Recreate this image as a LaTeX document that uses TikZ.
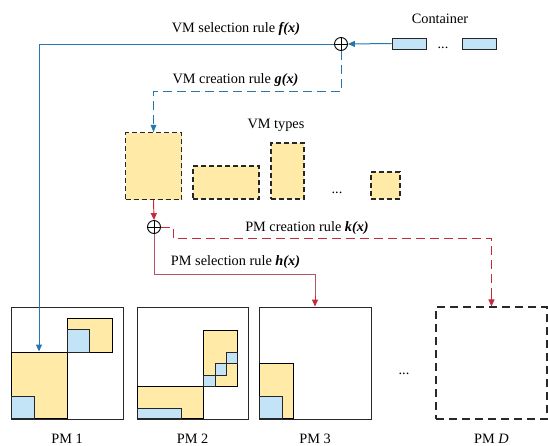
\documentclass[tikz,border=0pt]{standalone}
\usepackage{fontspec}
\setmainfont{Liberation Serif}
\usetikzlibrary{arrows.meta}
\definecolor{vmyellow}{RGB}{255,234,168}
\definecolor{ctblue}{RGB}{194,228,246}
\definecolor{selblue}{RGB}{40,118,175}
\definecolor{pmred}{RGB}{200,40,60}
\definecolor{pmredline}{RGB}{175,85,100}
\definecolor{boxgray}{RGB}{40,40,40}
\begin{document}
\begin{tikzpicture}[x=1pt,y=-1pt,
  lbl/.style={anchor=base,inner sep=0pt,font=\fontsize{14.3}{16}\selectfont},
  tip/.style={-{Triangle[length=7pt,width=6pt]}},
  pmbox/.style={draw=boxgray,line width=0.9pt},
  vmbox/.style={draw=black,fill=vmyellow,line width=0.9pt},
  vmtype/.style={draw=black!85,fill=vmyellow,line width=1.1pt,dash pattern=on 5pt off 3pt},
  ctbox/.style={draw=black!85,fill=ctblue,line width=0.9pt},
  oplus/.style={circle,draw=black,line width=0.9pt,minimum size=13pt,inner sep=0pt,
    path picture={\draw[line width=0.8pt] (path picture bounding box.north) -- (path picture bounding box.south)
      (path picture bounding box.west) -- (path picture bounding box.east);}},
  bluesolid/.style={draw=selblue,line width=1pt},
  bluedash/.style={draw=selblue,line width=0.95pt,dash pattern=on 9pt off 5pt},
  reddash/.style={draw=pmred,line width=0.95pt,dash pattern=on 9pt off 5pt}]
\useasboundingbox (0,0) rectangle (548,445);

% containers waiting to be placed
\node[ctbox,minimum width=34pt,minimum height=11pt,inner sep=0pt] (c1) at (409,43.5) {};
\node[ctbox,minimum width=34pt,minimum height=11pt,inner sep=0pt] (c2) at (479,43.5) {};
\node[lbl] (cdots) at (443,48) {...};
\node[lbl] (ctitle) at (440,23) {Container};

% decision point for VMs
\node[oplus] (ovm) at (341,44) {};
\draw[bluesolid,tip] (c1.west) -- (ovm.east);

% VM types
\node[vmtype,minimum width=56pt,minimum height=67pt,inner sep=0pt] (vt1) at (153.5,166) {};
\node[vmtype,minimum width=66pt,minimum height=33pt,inner sep=0pt] (vt2) at (226,182.5) {};
\node[vmtype,minimum width=33pt,minimum height=56pt,inner sep=0pt] (vt3) at (287.5,171) {};
\node[lbl] (vtdots) at (337,193) {...};
\node[vmtype,minimum width=29pt,minimum height=27pt,inner sep=0pt] (vt4) at (385.5,185.5) {};
\node[lbl] (vttitle) at (276,128) {VM types};

% decision point for PMs
\node[oplus] (opm) at (154,227) {};

% physical machines
\node[pmbox,minimum width=112pt,minimum height=112pt,inner sep=0pt] (pm1) at (67,363) {};
\node[pmbox,minimum width=111pt,minimum height=112pt,inner sep=0pt] (pm2) at (192.5,363) {};
\node[pmbox,minimum width=112pt,minimum height=112pt,inner sep=0pt] (pm3) at (315,363) {};
\node[lbl] (pmdots) at (404,374) {...};
\node[draw=boxgray,line width=1.05pt,dash pattern=on 8pt off 5pt,minimum width=111pt,minimum height=112pt,inner sep=0pt] (pmd) at (491.5,363) {};

\node[lbl] (l1) at (67,443) {PM 1};
\node[lbl] (l2) at (192.5,443) {PM 2};
\node[lbl] (l3) at (315,443) {PM 3};
\node[lbl] (ld) at (491.5,443) {PM \textit{D}};

% VMs and containers already hosted in PM 1
\draw[vmbox] (11,352) rectangle (67,418.5);
\draw[ctbox] (11,396) rectangle (34,418.5);
\draw[vmbox] (67,318) rectangle (112,352);
\draw[ctbox] (67,329) rectangle (89.5,352);

% PM 2
\draw[vmbox] (137,386) rectangle (203.5,418.5);
\draw[ctbox] (137,408) rectangle (181,418.5);
\draw[vmbox] (203.5,330) rectangle (237.5,386);
\draw[line width=0.9pt] (215,386) -- (215,363.5) -- (237.5,363.5);
\draw[line width=0.9pt] (226,375) -- (226,352) -- (237.5,352);
\draw[ctbox] (203.5,375) rectangle (215,386);
\draw[ctbox] (215,363.5) rectangle (226,375);
\draw[ctbox] (226,352) rectangle (237.5,363.5);

% PM 3
\draw[vmbox] (259,363) rectangle (293,418.5);
\draw[ctbox] (259,396.5) rectangle (282,418.5);

% VM selection rule
\coordinate (vmsel) at (39,44);
\draw[bluesolid,tip] (ovm.west) -- (vmsel) -- (39,351.5);
\node[lbl] (fx) at (236,32) {VM selection rule \textbf{\textit{f(x)}}};

% VM creation rule
\coordinate (vmc1) at (341,91.5);
\coordinate (vmc2) at (153.5,91.5);
\draw[bluedash] (ovm.south) -- (vmc1) -- (vmc2) -- (vt1.north);
\fill[selblue] (vt1.north) -- ++(-3,-7) -- ++(6,0) -- cycle;
\node[lbl] (gx) at (235.5,83) {VM creation rule \textbf{\textit{g(x)}}};

% from the chosen VM type to the PM decision point
\draw[draw=pmred,line width=0.95pt,tip] (vt1.south) -- (opm.north);

% PM selection rule
\coordinate (pms1) at (154,274);
\coordinate (pms2) at (315,274);
\draw[pmredline,line width=0.9pt] (opm.south) -- (pms1) -- (pms2) -- (315,299);
\draw[draw=pmred,line width=0.95pt,tip] (315,296) -- (pm3.north);
\node[lbl] (hx) at (235.5,265) {PM selection rule \textbf{\textit{h(x)}}};

% PM creation rule
\coordinate (pmc1) at (173,227);
\coordinate (pmc2) at (173,238);
\coordinate (pmc3) at (491.5,238);
\draw[reddash] (opm.east) -- (pmc1) -- (pmc2) -- (pmc3) -- (491.5,298);
\draw[draw=pmred,line width=0.95pt,tip] (491.5,296) -- (pmd.north);
\node[lbl] (kx) at (307,231) {PM creation rule \textbf{\textit{k(x)}}};
\end{tikzpicture}
\end{document}
